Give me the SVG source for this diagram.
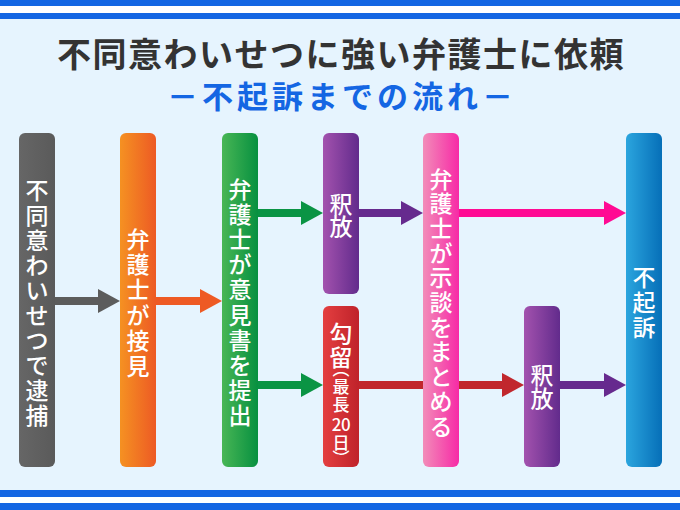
<svg xmlns="http://www.w3.org/2000/svg" width="680" height="510" viewBox="0 0 680 510">
<style>
.title{font-family:"Noto Sans CJK JP","Noto Sans CJK SC",sans-serif;font-weight:700;text-anchor:middle;dominant-baseline:central}
.t1{font-size:34px;fill:#333333;letter-spacing:1.5px}
.t2{font-size:31px;fill:#1466e3;letter-spacing:4px}
.lbl{font-family:"Noto Sans CJK JP","Noto Sans CJK SC",sans-serif;font-weight:500;font-size:23px;fill:#ffffff;text-anchor:middle;dominant-baseline:central}
.sm{font-size:17px}
.band{fill:#1466e3}
.ln{stroke-width:8;fill:none}
</style>
<defs>
<linearGradient id="gGray" x1="0" x2="1" y1="0" y2="0"><stop offset="0" stop-color="#666666"/><stop offset="1" stop-color="#5a5a5a"/></linearGradient>
<linearGradient id="gOrange" x1="0" x2="1" y1="0" y2="0"><stop offset="0" stop-color="#f59122"/><stop offset="1" stop-color="#ed5a24"/></linearGradient>
<linearGradient id="gGreen" x1="0" x2="1" y1="0" y2="0"><stop offset="0" stop-color="#48b655"/><stop offset="1" stop-color="#079040"/></linearGradient>
<linearGradient id="gPurple" x1="0" x2="1" y1="0" y2="0"><stop offset="0" stop-color="#a352ae"/><stop offset="1" stop-color="#622b8c"/></linearGradient>
<linearGradient id="gRed" x1="0" x2="1" y1="0" y2="0"><stop offset="0" stop-color="#e43f40"/><stop offset="1" stop-color="#bf222a"/></linearGradient>
<linearGradient id="gPink" x1="0" x2="1" y1="0" y2="0"><stop offset="0" stop-color="#f28cb9"/><stop offset="1" stop-color="#f72aa6"/></linearGradient>
<linearGradient id="gBlue" x1="0" x2="1" y1="0" y2="0"><stop offset="0" stop-color="#2ba5de"/><stop offset="1" stop-color="#066fb8"/></linearGradient>
<marker id="mGray" markerUnits="userSpaceOnUse" markerWidth="22" markerHeight="24" refX="7" refY="12" orient="auto"><path d="M0,0 L22,12 L0,24 Z" fill="#5c5c5c"/></marker>
<marker id="mOrange" markerUnits="userSpaceOnUse" markerWidth="22" markerHeight="24" refX="7" refY="12" orient="auto"><path d="M0,0 L22,12 L0,24 Z" fill="#ee5a24"/></marker>
<marker id="mGreen" markerUnits="userSpaceOnUse" markerWidth="22" markerHeight="24" refX="7" refY="12" orient="auto"><path d="M0,0 L22,12 L0,24 Z" fill="#0a9444"/></marker>
<marker id="mPurple" markerUnits="userSpaceOnUse" markerWidth="22" markerHeight="24" refX="7" refY="12" orient="auto"><path d="M0,0 L22,12 L0,24 Z" fill="#662a8e"/></marker>
<marker id="mPink" markerUnits="userSpaceOnUse" markerWidth="22" markerHeight="24" refX="7" refY="12" orient="auto"><path d="M0,0 L22,12 L0,24 Z" fill="#ff0a93"/></marker>
<marker id="mRed" markerUnits="userSpaceOnUse" markerWidth="22" markerHeight="24" refX="7" refY="12" orient="auto"><path d="M0,0 L22,12 L0,24 Z" fill="#c1272d"/></marker>
</defs>

<rect x="0" y="0" width="680" height="510" fill="#e6f4fe"/>
<rect class="band" x="0" y="0" width="680" height="6"/>
<rect x="0" y="6" width="680" height="7" fill="#ffffff"/>
<rect class="band" x="0" y="13" width="680" height="6"/>
<rect class="band" x="0" y="490" width="680" height="7"/>
<rect x="0" y="497" width="680" height="6" fill="#ffffff"/>
<rect class="band" x="0" y="503" width="680" height="7"/>

<g id="title">
<text class="title t1" x="341" y="52">不同意わいせつに強い弁護士に依頼</text>
<text class="title t2" x="342" y="94">－不起訴までの流れ－</text>
</g>

<g id="connectors">
<line class="ln" x1="55" y1="301" x2="105" y2="301" stroke="#5c5c5c" marker-end="url(#mGray)"/>
<line class="ln" x1="156" y1="301" x2="207" y2="301" stroke="#ee5a24" marker-end="url(#mOrange)"/>
<line class="ln" x1="258" y1="213" x2="308" y2="213" stroke="#0a9444" marker-end="url(#mGreen)"/>
<line class="ln" x1="258" y1="385" x2="308" y2="385" stroke="#0a9444" marker-end="url(#mGreen)"/>
<line class="ln" x1="359" y1="213" x2="408" y2="213" stroke="#662a8e" marker-end="url(#mPurple)"/>
<line class="ln" x1="459" y1="213" x2="611" y2="213" stroke="#ff0a93" marker-end="url(#mPink)"/>
<line class="ln" x1="359" y1="385" x2="509" y2="385" stroke="#c1272d" marker-end="url(#mRed)"/>
<line class="ln" x1="560" y1="385" x2="611" y2="385" stroke="#662a8e" marker-end="url(#mPurple)"/>
</g>

<g id="n-arrest">
<rect x="19" y="133" width="36" height="334" rx="6" fill="url(#gGray)"/>
<text class="lbl" x="37 37 37 37 37 37 37 37 37 37" y="188.5 213.6 238.7 263.8 288.9 314 339.1 364.2 389.3 414.4">不同意わいせつで逮捕</text>
</g>
<g id="n-visit">
<rect x="120" y="133" width="36" height="334" rx="6" fill="url(#gOrange)"/>
<text class="lbl" x="138 138 138 138 138 138" y="237.5 262.9 288.3 313.7 339.1 364.5">弁護士が接見</text>
</g>
<g id="n-opinion">
<rect x="222" y="133" width="36" height="334" rx="6" fill="url(#gGreen)"/>
<text class="lbl" x="240 240 240 240 240 240 240 240 240 240" y="188 213.1 238.2 263.3 288.4 313.5 338.6 363.7 388.8 413.9">弁護士が意見書を提出</text>
</g>
<g id="n-release1">
<rect x="323" y="133" width="36" height="161" rx="6" fill="url(#gPurple)"/>
<text class="lbl" x="341 341" y="202.5 225">釈放</text>
</g>
<g id="n-detention">
<rect x="323" y="306" width="36" height="161" rx="6" fill="url(#gRed)"/>
<text class="lbl" x="341 341" y="332 356">勾留</text>
<text class="lbl sm" x="341" y="367">︵</text>
<text class="lbl sm" x="341 341" y="385 403">最長</text>
<text class="lbl sm" x="341" y="423.5" style="letter-spacing:-0.5px">20</text>
<text class="lbl sm" x="341" y="441">日</text>
<text class="lbl sm" x="341" y="457">︶</text>
</g>
<g id="n-settle">
<rect x="423" y="133" width="36" height="334" rx="6" fill="url(#gPink)"/>
<text class="lbl" x="441 441 441 441 441 441 441 441 441 441 441" y="177.5 202.2 226.9 251.6 276.3 301 325.7 350.4 375.1 399.8 424.5">弁護士が示談をまとめる</text>
</g>
<g id="n-release2">
<rect x="524" y="306" width="36" height="161" rx="6" fill="url(#gPurple)"/>
<text class="lbl" x="542 542" y="374 397">釈放</text>
</g>
<g id="n-nonprosecution">
<rect x="626" y="133" width="36" height="334" rx="6" fill="url(#gBlue)"/>
<text class="lbl" x="644 644 644" y="276 301 326">不起訴</text>
</g>
</svg>
